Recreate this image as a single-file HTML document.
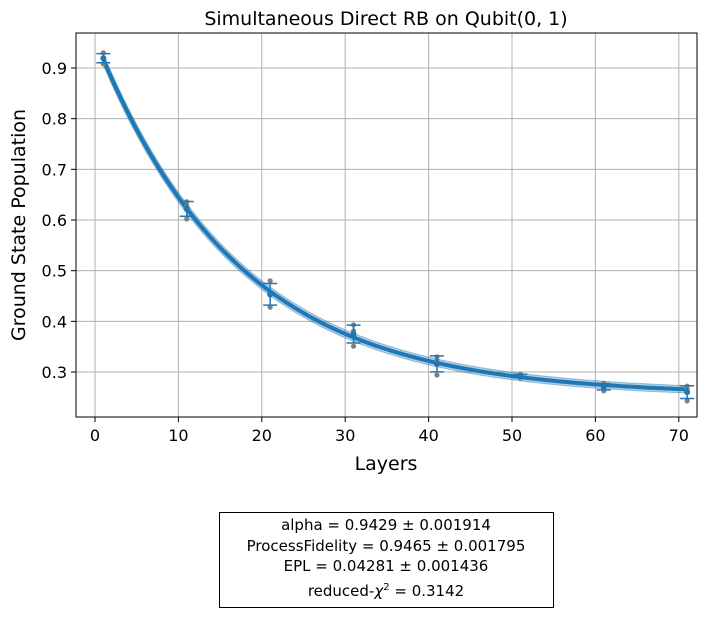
<!DOCTYPE html>
<html><head><meta charset="utf-8"><style>
body{margin:0;background:#fff;width:706px;height:612px;overflow:hidden;font-family:"Liberation Sans","DejaVu Sans",sans-serif;}
svg text{font-family:"DejaVu Sans","Liberation Sans",sans-serif;}
</style></head><body>
<svg id="chart" width="706" height="612" viewBox="0 0 706 612">
<text x="386" y="25" font-size="19" text-anchor="middle">Simultaneous Direct RB on Qubit(0, 1)</text>
<g id="grid"></g>
<g id="band"></g>
<g id="points"></g>
<g id="xt"></g><g id="yt"></g>
<rect x="76" y="33" width="621" height="384" fill="none" stroke="#000" stroke-width="1"/>
<text x="386" y="470" font-size="19" text-anchor="middle">Layers</text>
<text transform="translate(25,225) rotate(-90)" font-size="19" text-anchor="middle">Ground State Population</text>
<g>
<rect x="219.5" y="512.5" width="334" height="95" fill="#fff" stroke="#000"/>
<text x="386" y="530" font-size="15" text-anchor="middle">alpha =   0.9429 ±  0.001914</text>
<text x="386" y="551" font-size="15" text-anchor="middle">ProcessFidelity =   0.9465 ±  0.001795</text>
<text x="386" y="571" font-size="15" text-anchor="middle">EPL =   0.04281 ±  0.001436</text>
<text x="386" y="596" font-size="15" text-anchor="middle">reduced-<tspan font-style="italic">χ</tspan><tspan dy="-6" font-size="10">2</tspan><tspan dy="6"> =  0.3142</tspan></text>
</g>
</svg>
<script>
const layers=[1,11,21,31,41,51,61,71];
const samples=[[0.930,0.920,0.908],[0.636,0.628,0.602],[0.480,0.452,0.428],[0.393,0.381,0.351],[0.330,0.324,0.294],[0.296,0.288,0.292],[0.278,0.263,0.272],[0.272,0.266,0.243]];
const fitA=0.702, fitB=0.255, fitAlpha=0.9429, fitBand=0.012;
const xTicks=[0,10,20,30,40,50,60,70];
const yTicks=[0.3,0.4,0.5,0.6,0.7,0.8,0.9];
const NS="http://www.w3.org/2000/svg";
const X=v=>95+v*8.34, Y=v=>68+(0.9-v)*506.7;
function mk(p,t,a){const e=document.createElementNS(NS,t);for(const k in a)e.setAttribute(k,a[k]);document.getElementById(p).appendChild(e);return e;}
xTicks.forEach(t=>{
 const g=mk('grid','line',{x1:X(t),x2:X(t),y1:33,y2:417,stroke:'#b0b0b0','stroke-width':1});
 
 
 mk('xt','line',{x1:X(t),x2:X(t),y1:417,y2:422,stroke:'#000'});
 const l=mk('xt','text',{x:X(t),y:441,'font-size':16,'text-anchor':'middle'});l.textContent=t;
 
 
});
yTicks.forEach(t=>{
 const g=mk('grid','line',{x1:76,x2:697,y1:Y(t),y2:Y(t),stroke:'#b0b0b0','stroke-width':1});
 
 
 mk('yt','line',{x1:71,x2:76,y1:Y(t),y2:Y(t),stroke:'#000'});
 const l=mk('yt','text',{x:67,y:Y(t)+6,'font-size':16,'text-anchor':'end'});l.textContent=t.toFixed(1);
 
 
});
const f=x=>fitA*Math.pow(fitAlpha,x)+fitB;
let up=[],dn=[],mid=[];
for(let x=1;x<=71.01;x+=0.5){const v=f(x),w=fitBand*(0.3+Math.pow(fitAlpha,x)*0.7+0.3*(1-Math.pow(fitAlpha,x)));up.push(X(x)+','+Y(v+w));dn.unshift(X(x)+','+Y(v-w));mid.push(X(x)+','+Y(v));}
const b=mk('band','polygon',{points:up.concat(dn).join(' '),fill:'#1f77b4','fill-opacity':0.35,stroke:'#1f77b4','stroke-opacity':0.4});


const fl=mk('band','polyline',{points:mid.join(' '),fill:'none',stroke:'#1f77b4','stroke-width':4});


layers.forEach((L,i)=>{
 const s=samples[i];const m=s.reduce((a,c)=>a+c,0)/s.length;
 const sd=Math.sqrt(s.reduce((a,c)=>a+(c-m)*(c-m),0)/s.length);
 s.forEach(v=>{const c=mk('points','circle',{cx:X(L),cy:Y(v),r:2.6,fill:'#808080'});
  
  });
 const e=mk('points','path',{d:`M${X(L)},${Y(m-sd)}V${Y(m+sd)}M${X(L)-7},${Y(m-sd)}h14M${X(L)-7},${Y(m+sd)}h14`,stroke:'#1f77b4','stroke-width':1.5,fill:'none'});
 
 
 const c=mk('points','circle',{cx:X(L),cy:Y(m),r:3,fill:'#1f77b4'});
 
 
});
</script>
</body></html>
